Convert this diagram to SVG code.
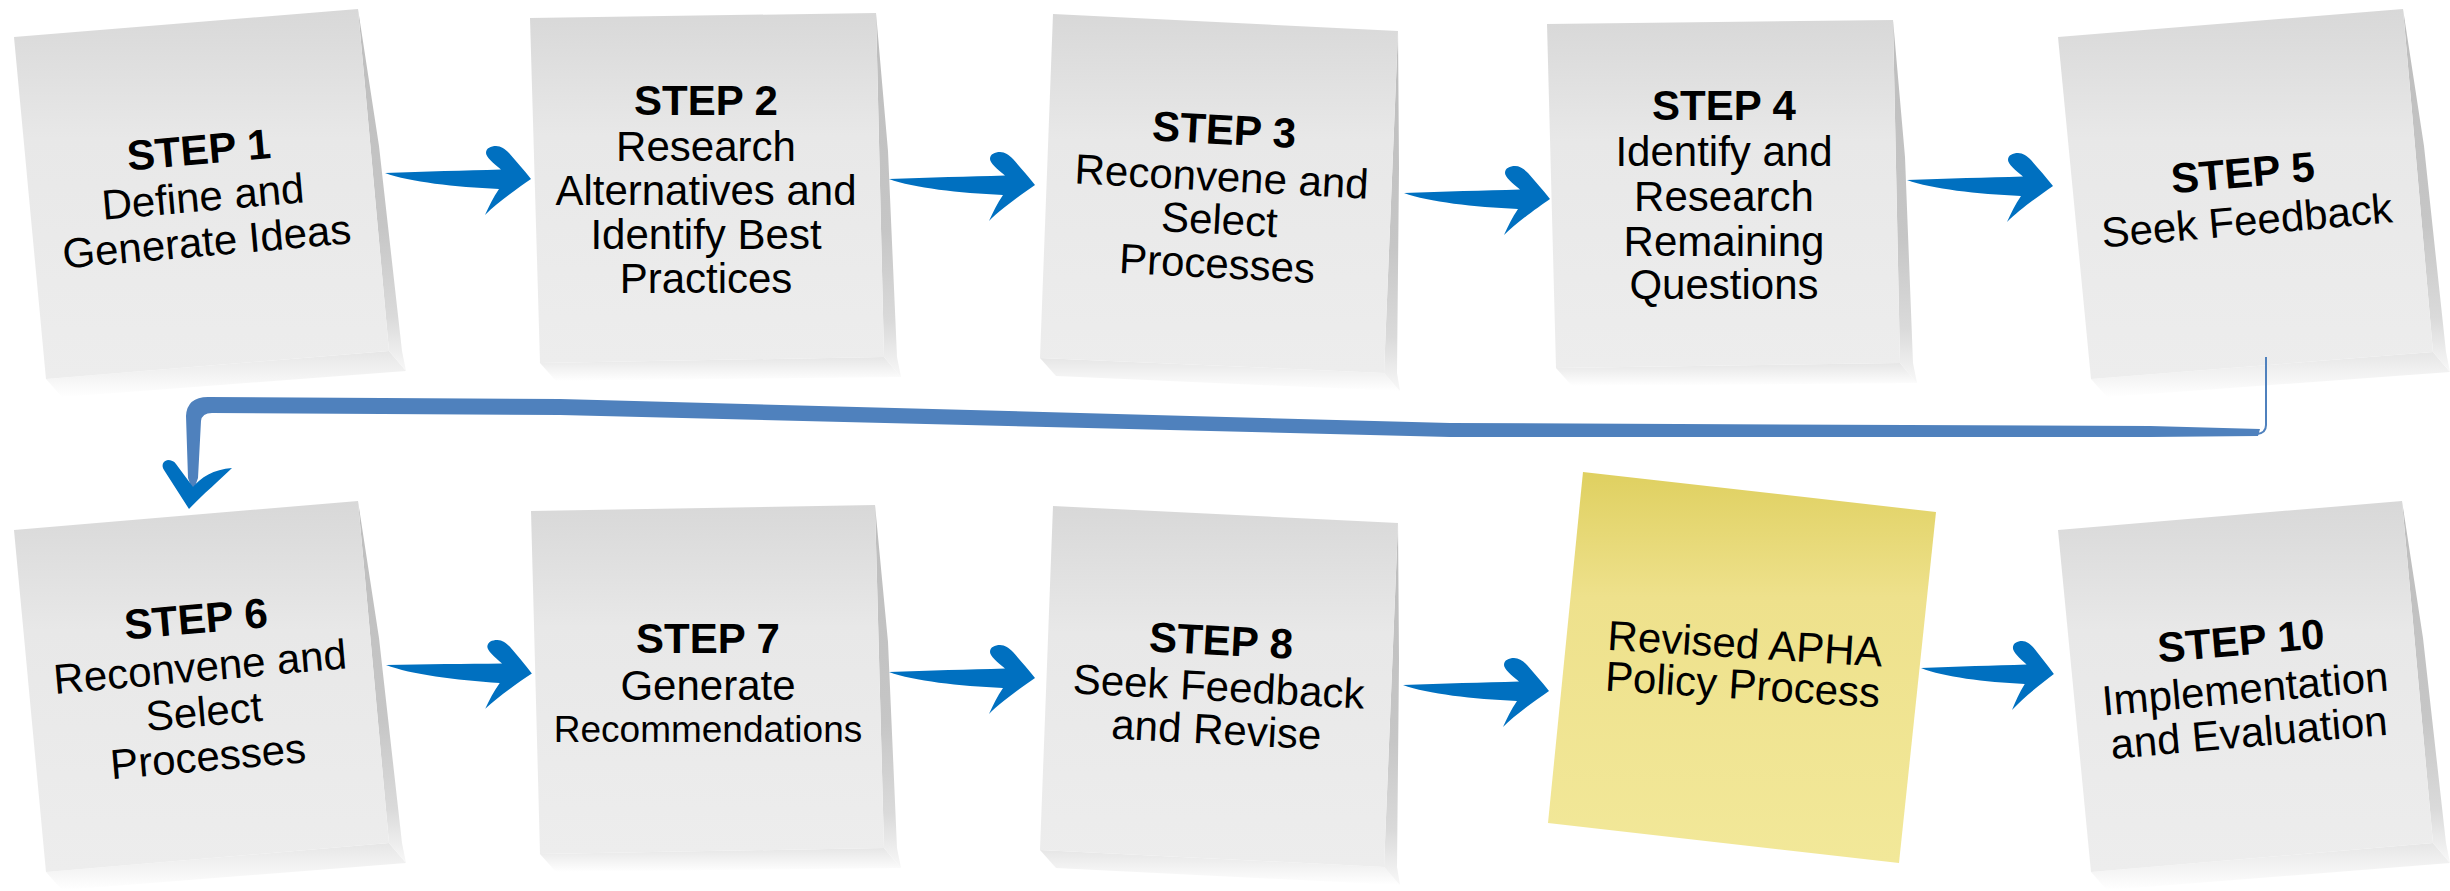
<svg xmlns="http://www.w3.org/2000/svg" xmlns:xlink="http://www.w3.org/1999/xlink" width="2450" height="891" viewBox="0 0 2450 891">
<style>
.paper{fill:url(#paper)}
.yel{fill:url(#yellow)}
.curl{fill:url(#curl)}
.shade{fill:url(#shade)}
.lbl{font-family:"Liberation Sans",Arial,sans-serif;font-size:42px;fill:#000;text-anchor:middle}
.lbl .h{font-weight:bold}
.arr{fill:#0070C0}
.band{fill:#4F81BD}
</style>
<defs>
<linearGradient id="paper" x1="0" y1="0" x2="0" y2="1">
<stop offset="0" stop-color="#d8d8d8"/>
<stop offset="0.35" stop-color="#e8e8e8"/>
<stop offset="1" stop-color="#ededed"/>
</linearGradient>
<linearGradient id="yellow" x1="0" y1="0" x2="0" y2="1">
<stop offset="0" stop-color="#dfd060"/>
<stop offset="0.32" stop-color="#eee18c"/>
<stop offset="1" stop-color="#f2e899"/>
</linearGradient>
<linearGradient id="curl" x1="0" y1="0" x2="0" y2="1">
<stop offset="0" stop-color="#bdbdbd"/>
<stop offset="0.6" stop-color="#c6c6c6"/>
<stop offset="0.85" stop-color="#dadada"/>
<stop offset="1" stop-color="#f8f8f8"/>
</linearGradient>
<linearGradient id="shade" x1="0" y1="0" x2="0" y2="1">
<stop offset="0" stop-color="#e6e6e6"/>
<stop offset="1" stop-color="#ffffff"/>
</linearGradient>
<path id="arrow" d="M0,0 C40,-1.5 80,-2.5 116,-3.5 C108,-10 101,-16 101,-20 C101,-25 106,-27 111,-27 C116,-27 120,-24 124,-20 C131,-12 139,-3 146,6 C133,15 112,30 100,42 C104,33 108,25 114,16 C70,14 25,9 0,0 Z"/>
</defs>
<rect width="2450" height="891" fill="#ffffff"/>

<g id="step1">
<polygon class="shade" points="46,379 389,351 406,371 62,397"/>
<polygon class="curl" points="358,9 379,146 402,351 406,371 389,351"/>
<polygon class="paper" points="14,37 358,9 389,351 46,379"/>
<text class="lbl" transform="rotate(-5 204 210)"><tspan class="h" x="204" y="164">STEP 1</tspan><tspan x="204" y="211">Define and</tspan><tspan x="204" y="256">Generate Ideas</tspan></text>
</g>

<g id="step2">
<polygon class="shade" points="540,363 884,357 901,377 556,381"/>
<polygon class="curl" points="876,13 888,151 897,357 901,377 884,357"/>
<polygon class="paper" points="530,18 876,13 884,357 540,363"/>
<text class="lbl"><tspan class="h" x="706" y="115">STEP 2</tspan><tspan x="706" y="161">Research</tspan><tspan x="706" y="205">Alternatives and</tspan><tspan x="706" y="249">Identify Best</tspan><tspan x="706" y="293">Practices</tspan></text>
</g>

<g id="step3">
<polygon class="shade" points="1040,358 1384,373 1400,391 1056,376"/>
<polygon class="curl" points="1398,31 1399,168 1397,373 1400,391 1384,373"/>
<polygon class="paper" points="1053,14 1398,31 1384,373 1040,358"/>
<text class="lbl" transform="rotate(3 1220 210)"><tspan class="h" x="1220" y="144">STEP 3</tspan><tspan x="1220" y="191">Reconvene and</tspan><tspan x="1220" y="234">Select</tspan><tspan x="1220" y="278">Processes</tspan></text>
</g>

<g id="step4">
<polygon class="shade" points="1556,368 1900,363 1917,383 1572,386"/>
<polygon class="curl" points="1893,20 1905,157 1913,363 1917,383 1900,363"/>
<polygon class="paper" points="1547,24 1893,20 1900,363 1556,368"/>
<text class="lbl"><tspan class="h" x="1724" y="120">STEP 4</tspan><tspan x="1724" y="166">Identify and</tspan><tspan x="1724" y="211">Research</tspan><tspan x="1724" y="256">Remaining</tspan><tspan x="1724" y="299">Questions</tspan></text>
</g>

<g id="step5">
<polygon class="shade" points="2091,379 2433,352 2450,372 2107,397"/>
<polygon class="curl" points="2403,9 2424,146 2446,352 2450,372 2433,352"/>
<polygon class="paper" points="2058,37 2403,9 2433,352 2091,379"/>
<text class="lbl" transform="rotate(-5 2246 210)"><tspan class="h" x="2246" y="187">STEP 5</tspan><tspan x="2246" y="235">Seek Feedback</tspan></text>
</g>

<g id="step6">
<polygon class="shade" points="46,872 389,843 406,863 62,890"/>
<polygon class="curl" points="358,501 379,638 402,843 406,863 389,843"/>
<polygon class="paper" points="14,530 358,501 389,843 46,872"/>
<text class="lbl" transform="rotate(-5 203 700)"><tspan class="h" x="203" y="633">STEP 6</tspan><tspan x="203" y="681">Reconvene and</tspan><tspan x="203" y="726">Select</tspan><tspan x="203" y="771">Processes</tspan></text>
</g>

<g id="step7">
<polygon class="shade" points="540,854 884,848 901,868 556,872"/>
<polygon class="curl" points="875,505 888,642 897,848 901,868 884,848"/>
<polygon class="paper" points="531,511 875,505 884,848 540,854"/>
<text class="lbl"><tspan class="h" x="708" y="653">STEP 7</tspan><tspan x="708" y="700">Generate</tspan><tspan x="708" y="742" font-size="37">Recommendations</tspan></text>
</g>

<g id="step8">
<polygon class="shade" points="1040,850 1384,867 1400,885 1056,868"/>
<polygon class="curl" points="1398,523 1399,661 1397,867 1400,885 1384,867"/>
<polygon class="paper" points="1053,506 1398,523 1384,867 1040,850"/>
<text class="lbl" transform="rotate(3 1218 700)"><tspan class="h" x="1218" y="655">STEP 8</tspan><tspan x="1218" y="701">Seek Feedback</tspan><tspan x="1218" y="744">and Revise</tspan></text>
</g>

<g id="step9">
<polygon class="yel" points="1583,472 1936,512 1899,863 1548,823"/>
<text class="lbl" transform="rotate(3.5 1743 680)"><tspan x="1743" y="658">Revised APHA</tspan><tspan x="1743" y="699">Policy Process</tspan></text>
</g>

<g id="step10">
<polygon class="shade" points="2091,872 2433,843 2450,863 2107,890"/>
<polygon class="curl" points="2402,501 2423,638 2446,843 2450,863 2433,843"/>
<polygon class="paper" points="2058,530 2402,501 2433,843 2091,872"/>
<text class="lbl" transform="rotate(-5 2246 700)"><tspan class="h" x="2246" y="655">STEP 10</tspan><tspan x="2246" y="703">Implementation</tspan><tspan x="2246" y="747">and Evaluation</tspan></text>
</g>

<g id="connectors">
<use href="#arrow" class="arr" transform="translate(385,173)"/>
<use href="#arrow" class="arr" transform="translate(889,179)"/>
<use href="#arrow" class="arr" transform="translate(1404,193)"/>
<use href="#arrow" class="arr" transform="translate(1907,180)"/>
<use href="#arrow" class="arr" transform="translate(386,665) rotate(1)"/>
<use href="#arrow" class="arr" transform="translate(889,672)"/>
<use href="#arrow" class="arr" transform="translate(1403,685)"/>
<use href="#arrow" class="arr" transform="translate(1921,668) scale(0.91 1)"/>
<path d="M2266,357 L2266,425 Q2266,433 2257,434" fill="none" stroke="#4F81BD" stroke-width="2"/>
<path class="band" d="M2260,429 L2150,426 L1450,423 L560,399 L208,397 Q187,397 186,416 L188,478 L193,492 L198,478 L201,421 Q202,413 212,413 L560,415 L1450,437 L2150,437 L2258,436 Z"/>
<path class="arr" d="M189,509 L164,470 C161,465 163,461 168,460 C171,460 174,461 176,464 L193,487 C200,478 214,469 232,468 C220,480 203,494 189,509 Z"/>
</g>
</svg>
